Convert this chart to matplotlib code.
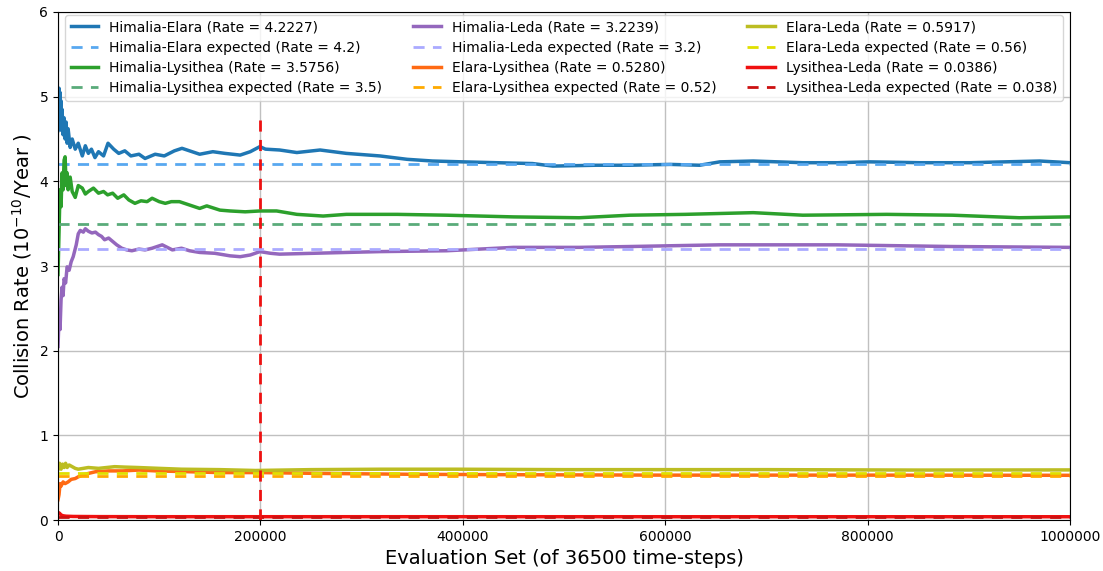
import matplotlib
matplotlib.use("Agg")
import matplotlib.pyplot as plt
import numpy as np

# (evaluation set, collision rate)
himalia_elara = [
    (0, 4.6), (1000, 5.1), (1500, 4.8), (2000, 5.05), (2500, 4.7), (3000, 4.95),
    (3500, 4.6), (4000, 4.85), (5000, 4.55), (6000, 4.75), (7000, 4.5), (8000, 4.7),
    (9000, 4.45), (10000, 4.62), (12000, 4.4), (14000, 4.5), (17000, 4.38), (20000, 4.45),
    (24000, 4.3), (27000, 4.42), (30000, 4.33), (33000, 4.38), (36500, 4.28), (40000, 4.35),
    (45000, 4.3), (49400, 4.45), (55000, 4.38), (60000, 4.33), (66000, 4.36), (72000, 4.3),
    (80000, 4.32), (86000, 4.27), (92000, 4.3), (96000, 4.32), (105000, 4.3), (115000, 4.36),
    (122500, 4.39), (130000, 4.36), (140000, 4.32), (153000, 4.35), (165000, 4.33), (180000, 4.31),
    (190000, 4.35), (199500, 4.41), (205000, 4.38), (219000, 4.37), (236000, 4.34), (259000, 4.37),
    (285000, 4.33), (318000, 4.3), (345000, 4.26), (370000, 4.24), (400000, 4.23), (434000, 4.22),
    (469000, 4.21), (489000, 4.18), (532000, 4.19), (565000, 4.19), (605000, 4.2), (634000, 4.19),
    (654000, 4.23), (687000, 4.24), (736000, 4.22), (770000, 4.22), (802000, 4.23), (852000, 4.22),
    (901000, 4.22), (970000, 4.24), (1000000, 4.22),
]
himalia_lysithea = [
    (0, 2.9), (1000, 3.4), (2000, 3.9), (3000, 3.7), (4000, 4.1), (5000, 3.9),
    (6000, 4.25), (7000, 4.29), (8000, 3.95), (9000, 4.1), (10000, 3.9), (12000, 4.05),
    (14000, 3.88), (17000, 3.81), (20000, 3.95), (24000, 3.92), (27000, 3.85), (30000, 3.88),
    (35000, 3.92), (40000, 3.86), (45000, 3.88), (49000, 3.84), (54000, 3.86), (59000, 3.8),
    (65000, 3.84), (70000, 3.78), (76000, 3.74), (82000, 3.77), (88000, 3.76), (93000, 3.8),
    (100000, 3.76), (106000, 3.74), (112000, 3.76), (120000, 3.76), (130000, 3.72), (140000, 3.68),
    (147000, 3.71), (160000, 3.66), (170000, 3.65), (185000, 3.64), (199500, 3.65), (216000, 3.65),
    (236000, 3.61), (262000, 3.59), (285000, 3.61), (335000, 3.61), (384000, 3.6), (450000, 3.58),
    (515000, 3.57), (565000, 3.6), (620000, 3.61), (687000, 3.63), (736000, 3.6), (819000, 3.61),
    (884000, 3.6), (950000, 3.57), (1000000, 3.58),
]
himalia_leda = [
    (0, 2.05), (1000, 2.4), (2000, 2.25), (3000, 2.6), (4000, 2.75), (5000, 2.65),
    (6000, 2.85), (7500, 2.8), (9000, 2.99), (11000, 2.95), (13000, 3.05), (15000, 3.11),
    (18000, 3.25), (20000, 3.38), (22000, 3.42), (25000, 3.4), (27000, 3.44), (30000, 3.41),
    (33500, 3.39), (37000, 3.4), (40000, 3.37), (43000, 3.35), (46000, 3.31), (50000, 3.33),
    (54000, 3.29), (58000, 3.25), (63000, 3.21), (68000, 3.19), (73000, 3.18), (80000, 3.2),
    (86000, 3.19), (93000, 3.21), (98000, 3.23), (103000, 3.25), (108000, 3.22), (113000, 3.19),
    (122000, 3.21), (130000, 3.18), (140000, 3.16), (155000, 3.15), (170000, 3.12), (180000, 3.11),
    (190000, 3.13), (199500, 3.17), (210000, 3.15), (219000, 3.14), (252000, 3.15), (285000, 3.16),
    (318000, 3.17), (384000, 3.18), (450000, 3.22), (515000, 3.22), (565000, 3.23), (654000, 3.25),
    (770000, 3.25), (884000, 3.23), (1000000, 3.22),
]
elara_lysithea = [
    (0, 0.24), (1000, 0.3), (2000, 0.43), (3000, 0.4), (5000, 0.45), (7000, 0.43),
    (10000, 0.45), (13000, 0.48), (17000, 0.49), (20000, 0.51), (24000, 0.53), (30000, 0.55),
    (37000, 0.57), (50000, 0.58), (64000, 0.58), (80000, 0.59), (97000, 0.58), (130000, 0.57),
    (160000, 0.56), (200000, 0.56), (260000, 0.55), (350000, 0.54), (450000, 0.535), (600000, 0.53),
    (800000, 0.53), (1000000, 0.528),
]
elara_leda = [
    (0, 0.6), (1500, 0.67), (3000, 0.6), (4500, 0.66), (6000, 0.62), (7500, 0.67),
    (9000, 0.62), (11000, 0.65), (14000, 0.63), (17000, 0.61), (20000, 0.6), (25000, 0.61),
    (30000, 0.62), (40000, 0.61), (56000, 0.63), (66000, 0.625), (79000, 0.62), (100000, 0.61),
    (122000, 0.6), (160000, 0.595), (195000, 0.585), (250000, 0.595), (320000, 0.6), (392000, 0.6),
    (500000, 0.595), (700000, 0.595), (850000, 0.59), (1000000, 0.5917),
]
lysithea_leda = [
    (0, 0.09), (1500, 0.08), (3000, 0.06), (5000, 0.05), (8000, 0.045), (15000, 0.042),
    (40000, 0.04), (100000, 0.039), (300000, 0.039), (600000, 0.0387), (1000000, 0.0386),
]

names = ["Himalia-Elara", "Himalia-Lysithea", "Himalia-Leda", "Elara-Lysithea", "Elara-Leda", "Lysithea-Leda"]
series = [himalia_elara, himalia_lysithea, himalia_leda, elara_lysithea, elara_leda, lysithea_leda]
final_rates = ["4.2227", "3.5756", "3.2239", "0.5280", "0.5917", "0.0386"]
expected_rates = [4.2, 3.5, 3.2, 0.52, 0.56, 0.038]
colors = ['#1f77b4', '#2ca02c', '#9467bd', '#ff6a13', '#bcbd22', '#f01010']
expected_colors = ['#58a8f0', '#5aab7a', '#aaaaff', '#ffaa00', '#e0e000', '#cc1111']

x_max = 1000000
split_at = 200000

fig = plt.figure(figsize=(11.03, 5.71), dpi=100)
ax = fig.add_axes([0.0526, 0.0893, 0.9174, 0.8897])

for i in range(len(names)):
    pts = np.array(series[i])
    ax.plot(pts[:, 0], pts[:, 1], color=colors[i], linewidth=2.5,
            label=names[i] + " (Rate = " + final_rates[i] + ")")
    ax.plot([0, x_max], [expected_rates[i], expected_rates[i]], color=expected_colors[i],
            linewidth=2, linestyle=(0, (4, 3)),
            label=names[i] + " expected (Rate = " + str(expected_rates[i]) + ")")

ax.plot([split_at, split_at], [0, 4.8], color='#ee1111', linewidth=2, linestyle=(0, (4, 3)))

ax.set_xlim(0, x_max)
ax.set_ylim(0, 6)
ax.set_xticks([0, 200000, 400000, 600000, 800000, 1000000])
ax.set_xticklabels(["0", "200000", "400000", "600000", "800000", "1000000"])
ax.grid(True, color='#c0c0c0', linewidth=1)
ax.set_axisbelow(True)
ax.tick_params(labelsize=10)
ax.set_xlabel("Evaluation Set (of 36500 time-steps)", fontsize=14)
ax.set_ylabel("Collision Rate ($10^{-10}$/Year )", fontsize=14)

# legend fills column by column: 4 rows x 3 cols
ax.legend(ncol=3, loc='upper center', fontsize=10, columnspacing=2.2, handlelength=2,
          borderaxespad=0.2, labelspacing=0.45)

plt.savefig("out.png", dpi=100)
